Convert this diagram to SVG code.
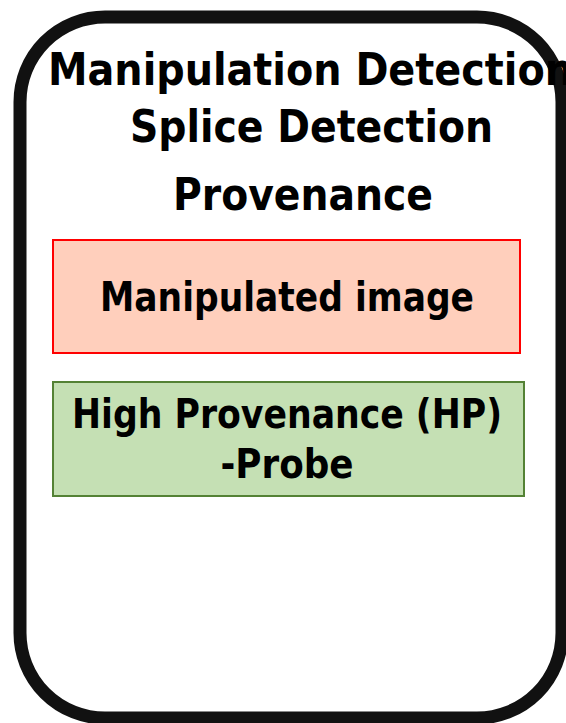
<svg xmlns="http://www.w3.org/2000/svg" width="566" height="723" viewBox="0 0 566 723">
<style>
  .t { font-family: "DejaVu Sans Condensed", "DejaVu Sans", sans-serif; font-weight: bold; fill: #000; }
  .title { font-size: 45px; }
  .box { font-size: 41px; text-anchor: middle; }
</style>
<rect width="566" height="723" fill="#fff"/>
<g id="frame">
  <rect x="20" y="17" width="542" height="701" rx="85" ry="85" fill="#fff" stroke="#111" stroke-width="13"/>
  <text class="t title" x="48" y="85" textLength="525" lengthAdjust="spacingAndGlyphs">Manipulation Detection</text>
  <text class="t title" x="130" y="142" textLength="363" lengthAdjust="spacingAndGlyphs">Splice Detection</text>
  <text class="t title" x="173" y="210" textLength="260" lengthAdjust="spacingAndGlyphs">Provenance</text>
</g>
<g id="manipulated">
  <rect x="53" y="240" width="467" height="113" fill="#FFCFBC" stroke="#FF0000" stroke-width="2"/>
  <text class="t box" x="287" y="311" textLength="374" lengthAdjust="spacingAndGlyphs">Manipulated image</text>
</g>
<g id="probe">
  <rect x="53" y="382" width="471" height="114" fill="#C5E0B4" stroke="#548235" stroke-width="2"/>
  <text class="t box" x="287" y="428" textLength="430" lengthAdjust="spacingAndGlyphs">High Provenance (HP)</text>
  <text class="t box" x="287" y="478" textLength="133" lengthAdjust="spacingAndGlyphs">-Probe</text>
</g>
<g id="connectors"></g>
</svg>
